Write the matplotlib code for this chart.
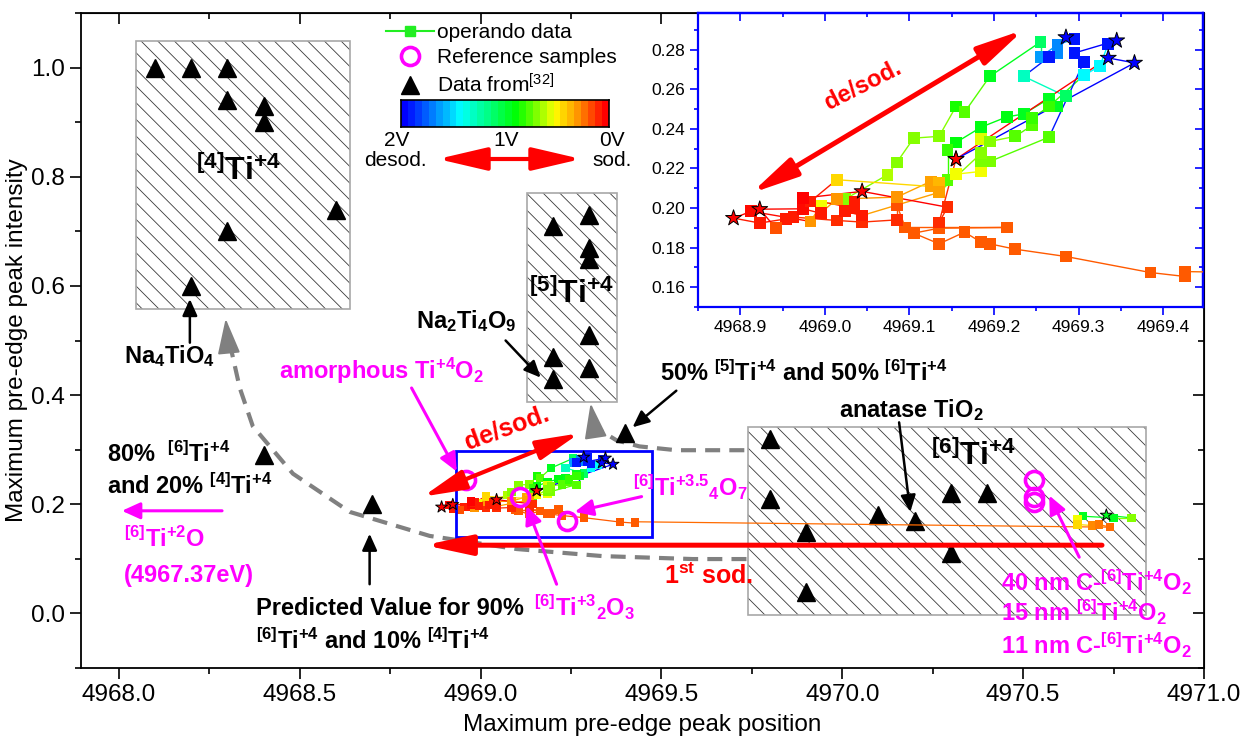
import numpy as np
import matplotlib
matplotlib.use("Agg")
import matplotlib.pyplot as plt
from matplotlib.colors import LinearSegmentedColormap, Normalize
from matplotlib.collections import LineCollection
from matplotlib.patches import Rectangle, FancyArrowPatch
from matplotlib.lines import Line2D
from matplotlib.ticker import MultipleLocator

plt.rcParams['font.family'] = ['Liberation Sans', 'DejaVu Sans']
plt.rcParams['mathtext.default'] = 'regular'
plt.rcParams['hatch.linewidth'] = 0.6

# ---------------- data ----------------
# literature values (Data from [32])
lit_x = [4968.1, 4968.2, 4968.3, 4968.3, 4968.4, 4968.4, 4968.3, 4968.6, 4968.2,
         4969.2, 4969.3, 4969.3, 4969.3, 4969.3, 4969.2, 4969.2, 4969.3,
         4969.8, 4969.8, 4969.9, 4970.1, 4970.2, 4970.3, 4970.4, 4970.3, 4969.9,
         4968.4, 4968.7, 4969.4]
lit_y = [1.00, 1.00, 1.00, 0.94, 0.93, 0.90, 0.70, 0.74, 0.60,
         0.71, 0.73, 0.67, 0.65, 0.51, 0.47, 0.43, 0.45,
         0.32, 0.21, 0.15, 0.18, 0.17, 0.22, 0.22, 0.11, 0.04,
         0.29, 0.20, 0.33]

# reference samples
ref_x = [4968.96, 4969.11, 4969.24, 4970.53, 4970.53, 4970.53]
ref_y = [0.245, 0.213, 0.170, 0.244, 0.213, 0.204]

# operando data (in measuring order), voltage in V, star = end of a half cycle
op_x = [4970.73, 4970.80, 4970.75, 4970.665, 4970.65, 4970.65, 4970.69, 4970.71, 4970.74,
        4969.426, 4969.426, 4969.385, 4969.285, 4969.225, 4969.195, 4969.185, 4969.165,
        4969.135, 4969.105, 4969.135, 4969.215, 4969.095, 4969.085, 4969.085, 4969.044,
        4969.014, 4968.963, 4968.954, 4968.923, 4968.892,
        4968.913, 4968.983, 4968.995, 4969.024, 4969.074, 4969.085, 4969.105, 4969.135,
        4969.155, 4969.165, 4969.195, 4969.255, 4969.255, 4969.275, 4969.295, 4969.285,
        4969.275, 4969.265, 4969.235, 4969.285, 4969.275, 4969.265, 4969.235, 4969.215,
        4969.185, 4969.155, 4969.145, 4969.145, 4969.125, 4969.085, 4969.014, 4968.995,
        4968.974, 4968.923,
        4968.942, 4968.983, 4969.014, 4969.125, 4969.135, 4969.155, 4969.185, 4969.185,
        4969.195, 4969.225, 4969.245, 4969.245, 4969.265, 4969.306, 4969.325, 4969.335,
        4969.345,
        4969.295, 4969.306, 4969.265, 4969.195, 4969.185, 4969.185, 4969.135, 4969.044,
        4969.024, 4969.035, 4969.035, 4968.974, 4969.044,
        4969.145, 4969.135, 4969.155, 4969.335, 4969.366, 4969.155]
op_y = [0.180, 0.175, 0.175, 0.178, 0.173, 0.163, 0.161, 0.163, 0.158,
        0.1679, 0.1654, 0.1674, 0.1755, 0.1792, 0.1819, 0.1827, 0.1878,
        0.1819, 0.1873, 0.1898, 0.1902, 0.1902, 0.2016, 0.1940, 0.1929,
        0.1937, 0.1954, 0.1945, 0.1924, 0.1949,
        0.1983, 0.1932, 0.2013, 0.2045, 0.2168, 0.2230, 0.2353, 0.2362,
        0.2513, 0.2483, 0.2665, 0.2839, 0.2763, 0.2825, 0.2854, 0.2862,
        0.2783, 0.2763, 0.2665, 0.2564, 0.2513, 0.2552, 0.2475, 0.2460,
        0.2409, 0.2331, 0.2294, 0.2143, 0.2134, 0.2055, 0.2045, 0.1974,
        0.1996, 0.1994,
        0.1898, 0.2033, 0.2143, 0.2109, 0.2129, 0.2171, 0.2185, 0.2348,
        0.2336, 0.2362, 0.2417, 0.2454, 0.2513, 0.2670, 0.2716, 0.2829,
        0.2846,
        0.2783, 0.2736, 0.2358, 0.2235, 0.2235, 0.2277, 0.2079, 0.1962,
        0.1983, 0.2030, 0.1999, 0.2050, 0.2084,
        0.2004, 0.1927, 0.2247, 0.2758, 0.2733, 0.2247]
op_v = [0.95, 0.68, 0.95, 0.95, 0.52, 0.42, 0.25, 0.22, 0.20,
        0.17, 0.17, 0.17, 0.17, 0.17, 0.17, 0.17, 0.17,
        0.17, 0.17, 0.17, 0.17, 0.17, 0.15, 0.08, 0.08,
        0.08, 0.05, 0.05, 0.05, 0.00,
        0.02, 0.28, 0.52, 0.68, 0.62, 0.68, 0.68, 0.68,
        0.85, 0.75, 0.95, 1.10, 1.65, 1.70, 1.95, 2.00,
        1.70, 1.95, 1.30, 1.10, 0.95, 0.95, 0.95, 0.92,
        0.92, 0.90, 0.80, 0.75, 0.30, 0.28, 0.28, 0.05,
        0.02, 0.00,
        0.15, 0.05, 0.42, 0.30, 0.35, 0.52, 0.52, 0.55,
        0.68, 0.75, 0.75, 0.80, 0.80, 1.45, 1.45, 1.95,
        2.00,
        1.95, 1.95, 0.75, 0.70, 0.70, 0.68, 0.30, 0.05,
        0.05, 0.05, 0.05, 0.00, 0.00,
        0.08, 0.08, 0.00, 2.00, 2.00, 0.00]
op_star = [1, 0, 0, 0, 0, 0, 0, 0, 0,
           0, 0, 0, 0, 0, 0, 0, 0,
           0, 0, 0, 0, 0, 0, 0, 0,
           0, 0, 0, 0, 1,
           0, 0, 0, 0, 0, 0, 0, 0,
           0, 0, 0, 0, 0, 0, 0, 1,
           0, 0, 0, 0, 0, 0, 0, 0,
           0, 0, 0, 0, 0, 0, 0, 0,
           0, 1,
           0, 0, 0, 0, 0, 0, 0, 0,
           0, 0, 0, 0, 0, 0, 0, 0,
           1,
           0, 0, 0, 0, 0, 0, 0, 0,
           0, 0, 0, 0, 1,
           0, 0, 1, 1, 1, 1]

# hatched coordination regions
reg_label = [r'$^{[4]}$Ti$^{+4}$', r'$^{[5]}$Ti$^{+4}$', r'$^{[6]}$Ti$^{+4}$']
reg_x0 = [4968.046, 4969.129, 4969.738]
reg_x1 = [4968.640, 4969.377, 4970.840]
reg_y0 = [0.557, 0.387, -0.002]
reg_y1 = [1.0485, 0.770, 0.341]

volt_cmap = LinearSegmentedColormap.from_list(
    'volt', [(0, '#ff0000'), (0.14, '#ff9900'), (0.25, '#ffff00'),
             (0.44, '#00ff00'), (0.72, '#00ffff'), (1, '#0000ff')])
vnorm = Normalize(0, 2)

W, H = 1241, 740
fig = plt.figure(figsize=(W / 100, H / 100), dpi=100)


def fpx(px, py):
    return (px / W, 1 - py / H)


def draw_operando(ax, ms, star_ms, lw):
    x = np.array(op_x)
    y = np.array(op_y)
    v = np.array(op_v)
    st = np.array(op_star) == 1
    pts = np.column_stack([x, y])
    segs = np.stack([pts[:-1], pts[1:]], axis=1)
    ax.add_collection(LineCollection(segs, colors=volt_cmap(vnorm(v[:-1])),
                                     linewidths=lw, zorder=4))
    ax.scatter(x[~st], y[~st], c=v[~st], cmap=volt_cmap, norm=vnorm, marker='s',
               s=ms ** 2, edgecolors='none', zorder=5)
    ax.scatter(x[st], y[st], c=v[st], cmap=volt_cmap, norm=vnorm, marker='*',
               s=star_ms ** 2, edgecolors='k', linewidths=0.7, zorder=6)


def arrow(ax, xy, xytext, color, lw, hl, hw, style='-|>', ms=10):
    ax.annotate('', xy=xy, xytext=xytext, zorder=8,
                arrowprops=dict(arrowstyle=f'{style},head_length={hl},head_width={hw}',
                                color=color, lw=lw, shrinkA=0, shrinkB=0,
                                mutation_scale=ms))


# ---------------- main axes ----------------
ax = fig.add_axes([81 / W, 1 - 668 / H, (1204 - 81) / W, (668 - 13) / H])
ax.set_xlim(4967.895, 4971.0)
ax.set_ylim(-0.1, 1.1)

for x0, x1, y0, y1 in zip(reg_x0, reg_x1, reg_y0, reg_y1):
    ax.add_patch(Rectangle((x0, y0), x1 - x0, y1 - y0, facecolor='white',
                           edgecolor='#3a3a3a', hatch='\\\\', lw=0, zorder=1))
    ax.add_patch(Rectangle((x0, y0), x1 - x0, y1 - y0, facecolor='none',
                           edgecolor='#a8a8a8', lw=1.2, zorder=1.1))

# guide curves (dashed grey)
curveA_x = [4969.735, 4969.586, 4969.337, 4969.099, 4968.859, 4968.638, 4968.481,
            4968.370, 4968.334, 4968.312, 4968.300]
curveA_y = [0.0996, 0.0996, 0.105, 0.118, 0.142, 0.186, 0.256, 0.343, 0.413, 0.478, 0.515]
curveB_x = [4969.729, 4969.605, 4969.541, 4969.439, 4969.376, 4969.329, 4969.312]
curveB_y = [0.299, 0.299, 0.299, 0.306, 0.317, 0.336, 0.355]
for cx, cy in ((curveA_x, curveA_y), (curveB_x, curveB_y)):
    ax.plot(cx, cy, color='#808080', lw=3, ls=(0, (3.6, 2.2)), zorder=2,
            solid_capstyle='butt')
arrow(ax, (4968.295, 0.540), (4968.300, 0.505), '#808080', 1.5, 2.2, 0.7)
arrow(ax, (4969.304, 0.385), (4969.312, 0.350), '#808080', 1.5, 2.2, 0.7)

ax.plot(lit_x, lit_y, ls='none', marker='^', ms=13, color='black', zorder=3)

# zoom rectangle
ax.add_patch(Rectangle((4968.931, 0.140), 4969.475 - 4968.931, 0.297 - 0.140,
                       facecolor='none', edgecolor='#0000ff', lw=2, zorder=6))

draw_operando(ax, 6, 9, 0.9)
ax.plot(ref_x, ref_y, ls='none', marker='o', ms=13, mfc='none', mec='#ff00ff',
        mew=2.6, zorder=7)

# red arrows
arrow(ax, (4968.84, 0.214), (4969.273, 0.330), '#ff0000', 3, 2.6, 0.6, style='<|-|>')
arrow(ax, (4968.845, 0.125), (4970.718, 0.125), '#ff0000', 3.6, 2.8, 0.6)
ax.text(4969.072, 0.339, 'de/sod.', color='#ff0000', fontsize=18, fontweight='bold',
        rotation=20, ha='center', va='center', zorder=9)
ax.text(4969.63, 0.068, '1$^{st}$ sod.', color='#ff0000', fontsize=18,
        fontweight='bold', ha='center', va='center', zorder=9)

# region labels
reg_lab_xy = [(4968.329, 0.810), (4969.251, 0.585), (4970.362, 0.288)]
for lab, (tx, ty) in zip(reg_label, reg_lab_xy):
    ax.text(tx, ty, lab, fontsize=23, fontweight='bold', ha='center', va='center',
            zorder=9)

bk = dict(fontsize=17, fontweight='bold', color='black', zorder=9)
mg = dict(fontsize=17, fontweight='bold', color='#ff00ff', zorder=9)

ax.text(4968.141, 0.472, 'Na$_4$TiO$_4$', ha='center', va='center', **bk)
arrow(ax, (4968.196, 0.576), (4968.196, 0.496), 'black', 1.8, 1.0, 0.45)
ax.text(4968.961, 0.535, 'Na$_2$Ti$_4$O$_9$', ha='center', va='center', **bk)
arrow(ax, (4969.166, 0.432), (4969.069, 0.500), 'black', 1.8, 1.0, 0.45)
ax.text(4969.895, 0.441, '50% $^{[5]}$Ti$^{+4}$ and 50% $^{[6]}$Ti$^{+4}$',
        ha='center', va='center', **bk)
arrow(ax, (4969.420, 0.341), (4969.541, 0.408), 'black', 1.8, 1.0, 0.45)
ax.text(4970.191, 0.373, 'anatase TiO$_2$', ha='center', va='center', **bk)
arrow(ax, (4970.188, 0.186), (4970.157, 0.350), 'black', 1.8, 1.0, 0.45)
ax.text(4967.967, 0.2915, '80%  $^{[6]}$Ti$^{+4}$', ha='left', va='center', **bk)
ax.text(4967.967, 0.234, 'and 20% $^{[4]}$Ti$^{+4}$', ha='left', va='center', **bk)
ax.text(4968.378, 0.009, 'Predicted Value for 90%', ha='left', va='center', **bk)
ax.text(4968.378, -0.050, '$^{[6]}$Ti$^{+4}$ and 10% $^{[4]}$Ti$^{+4}$',
        ha='left', va='center', **bk)
arrow(ax, (4968.693, 0.146), (4968.693, 0.0535), 'black', 1.8, 1.0, 0.45)

arrow(ax, (4968.008, 0.188), (4968.285, 0.188), '#ff00ff', 2.2, 1.1, 0.5)
ax.text(4968.014, 0.1365, '$^{[6]}$Ti$^{+2}$O', ha='left', va='center', **mg)
ax.text(4968.014, 0.070, '(4967.37eV)', ha='left', va='center', **mg)
ax.text(4968.726, 0.445, 'amorphous Ti$^{+4}$O$_2$', ha='center', va='center', **mg)
arrow(ax, (4968.934, 0.260), (4968.809, 0.413), '#ff00ff', 2.2, 1.1, 0.5)
ax.text(4969.42, 0.232, '$^{[6]}$Ti$^{+3.5}$$_4$O$_7$', ha='left', va='center', **mg)
arrow(ax, (4969.260, 0.186), (4969.445, 0.214), '#ff00ff', 2.2, 1.1, 0.5)
ax.text(4969.287, 0.011, '$^{[6]}$Ti$^{+3}$$_2$O$_3$', ha='center', va='center', **mg)
arrow(ax, (4969.127, 0.197), (4969.210, 0.0535), '#ff00ff', 2.2, 1.1, 0.5)
ax.text(4970.439, 0.057, '40 nm C-$^{[6]}$Ti$^{+4}$O$_2$', ha='left', va='center', **mg)
ax.text(4970.439, 0.002, '15 nm $^{[6]}$Ti$^{+4}$O$_2$', ha='left', va='center', **mg)
ax.text(4970.439, -0.059, '11 nm C-$^{[6]}$Ti$^{+4}$O$_2$', ha='left', va='center', **mg)
arrow(ax, (4970.572, 0.216), (4970.655, 0.103), '#ff00ff', 2.2, 1.1, 0.5)

ax.set_xlabel('Maximum pre-edge peak position', fontsize=17.5, labelpad=6)
ax.set_ylabel('Maximum pre-edge peak intensity', fontsize=17.5, labelpad=2)
ax.xaxis.set_major_locator(MultipleLocator(0.5))
ax.xaxis.set_minor_locator(MultipleLocator(0.25))
ax.yaxis.set_major_locator(MultipleLocator(0.2))
ax.yaxis.set_minor_locator(MultipleLocator(0.1))
ax.xaxis.set_major_formatter('{x:.1f}')
ax.yaxis.set_major_formatter('{x:.1f}')
ax.tick_params(which='both', direction='out', labelsize=17.5, width=1.2)
ax.tick_params(which='major', length=8)
ax.tick_params(which='minor', length=4)
for sp in ax.spines.values():
    sp.set_linewidth(1.3)
for side in ('top', 'right'):
    sec = ax.secondary_xaxis('top') if side == 'top' else ax.secondary_yaxis('right')
    axis = sec.xaxis if side == 'top' else sec.yaxis
    axis.set_major_locator(MultipleLocator(0.5 if side == 'top' else 0.2))
    axis.set_minor_locator(MultipleLocator(0.25 if side == 'top' else 0.1))
    sec.tick_params(which='both', direction='in', labelleft=False, labelright=False,
                    labeltop=False, width=1.2)
    sec.tick_params(which='major', length=8)
    sec.tick_params(which='minor', length=4)

# legend
handles = [Line2D([], [], color='#22ee22', lw=1.5, marker='s', ms=7),
           Line2D([], [], ls='none', marker='o', ms=13, mfc='none', mec='#ff00ff', mew=2.6),
           Line2D([], [], ls='none', marker='^', ms=13, color='black')]
fig.legend(handles, ['operando data', 'Reference samples', 'Data from$^{[32]}$'],
           loc='upper left', bbox_to_anchor=fpx(386, 23), frameon=False, fontsize=15,
           handlelength=2.3, handletextpad=0.15, labelspacing=0.3, borderpad=0,
           borderaxespad=0)

# voltage colour bar
cax = fig.add_axes([401 / W, 1 - 127 / H, 208 / W, 27 / H])
cax.imshow(np.linspace(2, 0, 30)[None, :], cmap=volt_cmap, norm=vnorm, aspect='auto')
cax.set_xticks([])
cax.set_yticks([])
for sp in cax.spines.values():
    sp.set_linewidth(1.2)
for lab, px in (('2V', 397), ('1V', 506), ('0V', 612)):
    fig.text(*fpx(px, 140), lab, fontsize=15, ha='center', va='center')
fig.text(*fpx(395, 160), 'desod.', fontsize=15, ha='center', va='center')
fig.text(*fpx(612, 160), 'sod.', fontsize=15, ha='center', va='center')
fig.add_artist(FancyArrowPatch(
    fpx(435, 159), fpx(584, 159), transform=fig.transFigure,
    arrowstyle='<|-|>,head_length=3.0,head_width=0.7', mutation_scale=10,
    color='#ff0000', lw=3))

# ---------------- inset ----------------
ins = fig.add_axes([698 / W, 1 - 307 / H, (1203 - 698) / W, (307 - 13) / H], zorder=5)
ins.set_facecolor('white')
ins.set_xlim(4968.85, 4969.447)
ins.set_ylim(0.15, 0.2985)
draw_operando(ins, 8.5, 12, 1.0)
arrow(ins, (4968.913, 0.2075), (4969.235, 0.290), '#ff0000', 3.6, 2.8, 0.6, style='<|-|>')
ins.text(4969.045, 0.262, 'de/sod.', color='#ff0000', fontsize=17, fontweight='bold',
         rotation=27, ha='center', va='center')
ins.xaxis.set_major_locator(MultipleLocator(0.1))
ins.xaxis.set_minor_locator(MultipleLocator(0.05))
ins.yaxis.set_major_locator(MultipleLocator(0.02))
ins.yaxis.set_minor_locator(MultipleLocator(0.01))
ins.xaxis.set_major_formatter('{x:.1f}')
ins.yaxis.set_major_formatter('{x:.2f}')
ins.tick_params(which='both', direction='out', labelsize=12.5, color='#0000ff', width=1.2)
ins.tick_params(which='major', length=6)
ins.tick_params(which='minor', length=3)
for sp in ins.spines.values():
    sp.set_color('#0000ff')
    sp.set_linewidth(1.6)
for side in ('top', 'right'):
    sec = ins.secondary_xaxis('top') if side == 'top' else ins.secondary_yaxis('right')
    axis = sec.xaxis if side == 'top' else sec.yaxis
    axis.set_major_locator(MultipleLocator(0.1 if side == 'top' else 0.02))
    axis.set_minor_locator(MultipleLocator(0.05 if side == 'top' else 0.01))
    sec.tick_params(which='both', direction='in', labelleft=False, labelright=False,
                    labeltop=False, color='#0000ff', width=1.2)
    sec.tick_params(which='major', length=6)
    sec.tick_params(which='minor', length=3)
    for sp in sec.spines.values():
        sp.set_color('#0000ff')
        sp.set_linewidth(1.6)

fig.savefig('out.png', dpi=100)
